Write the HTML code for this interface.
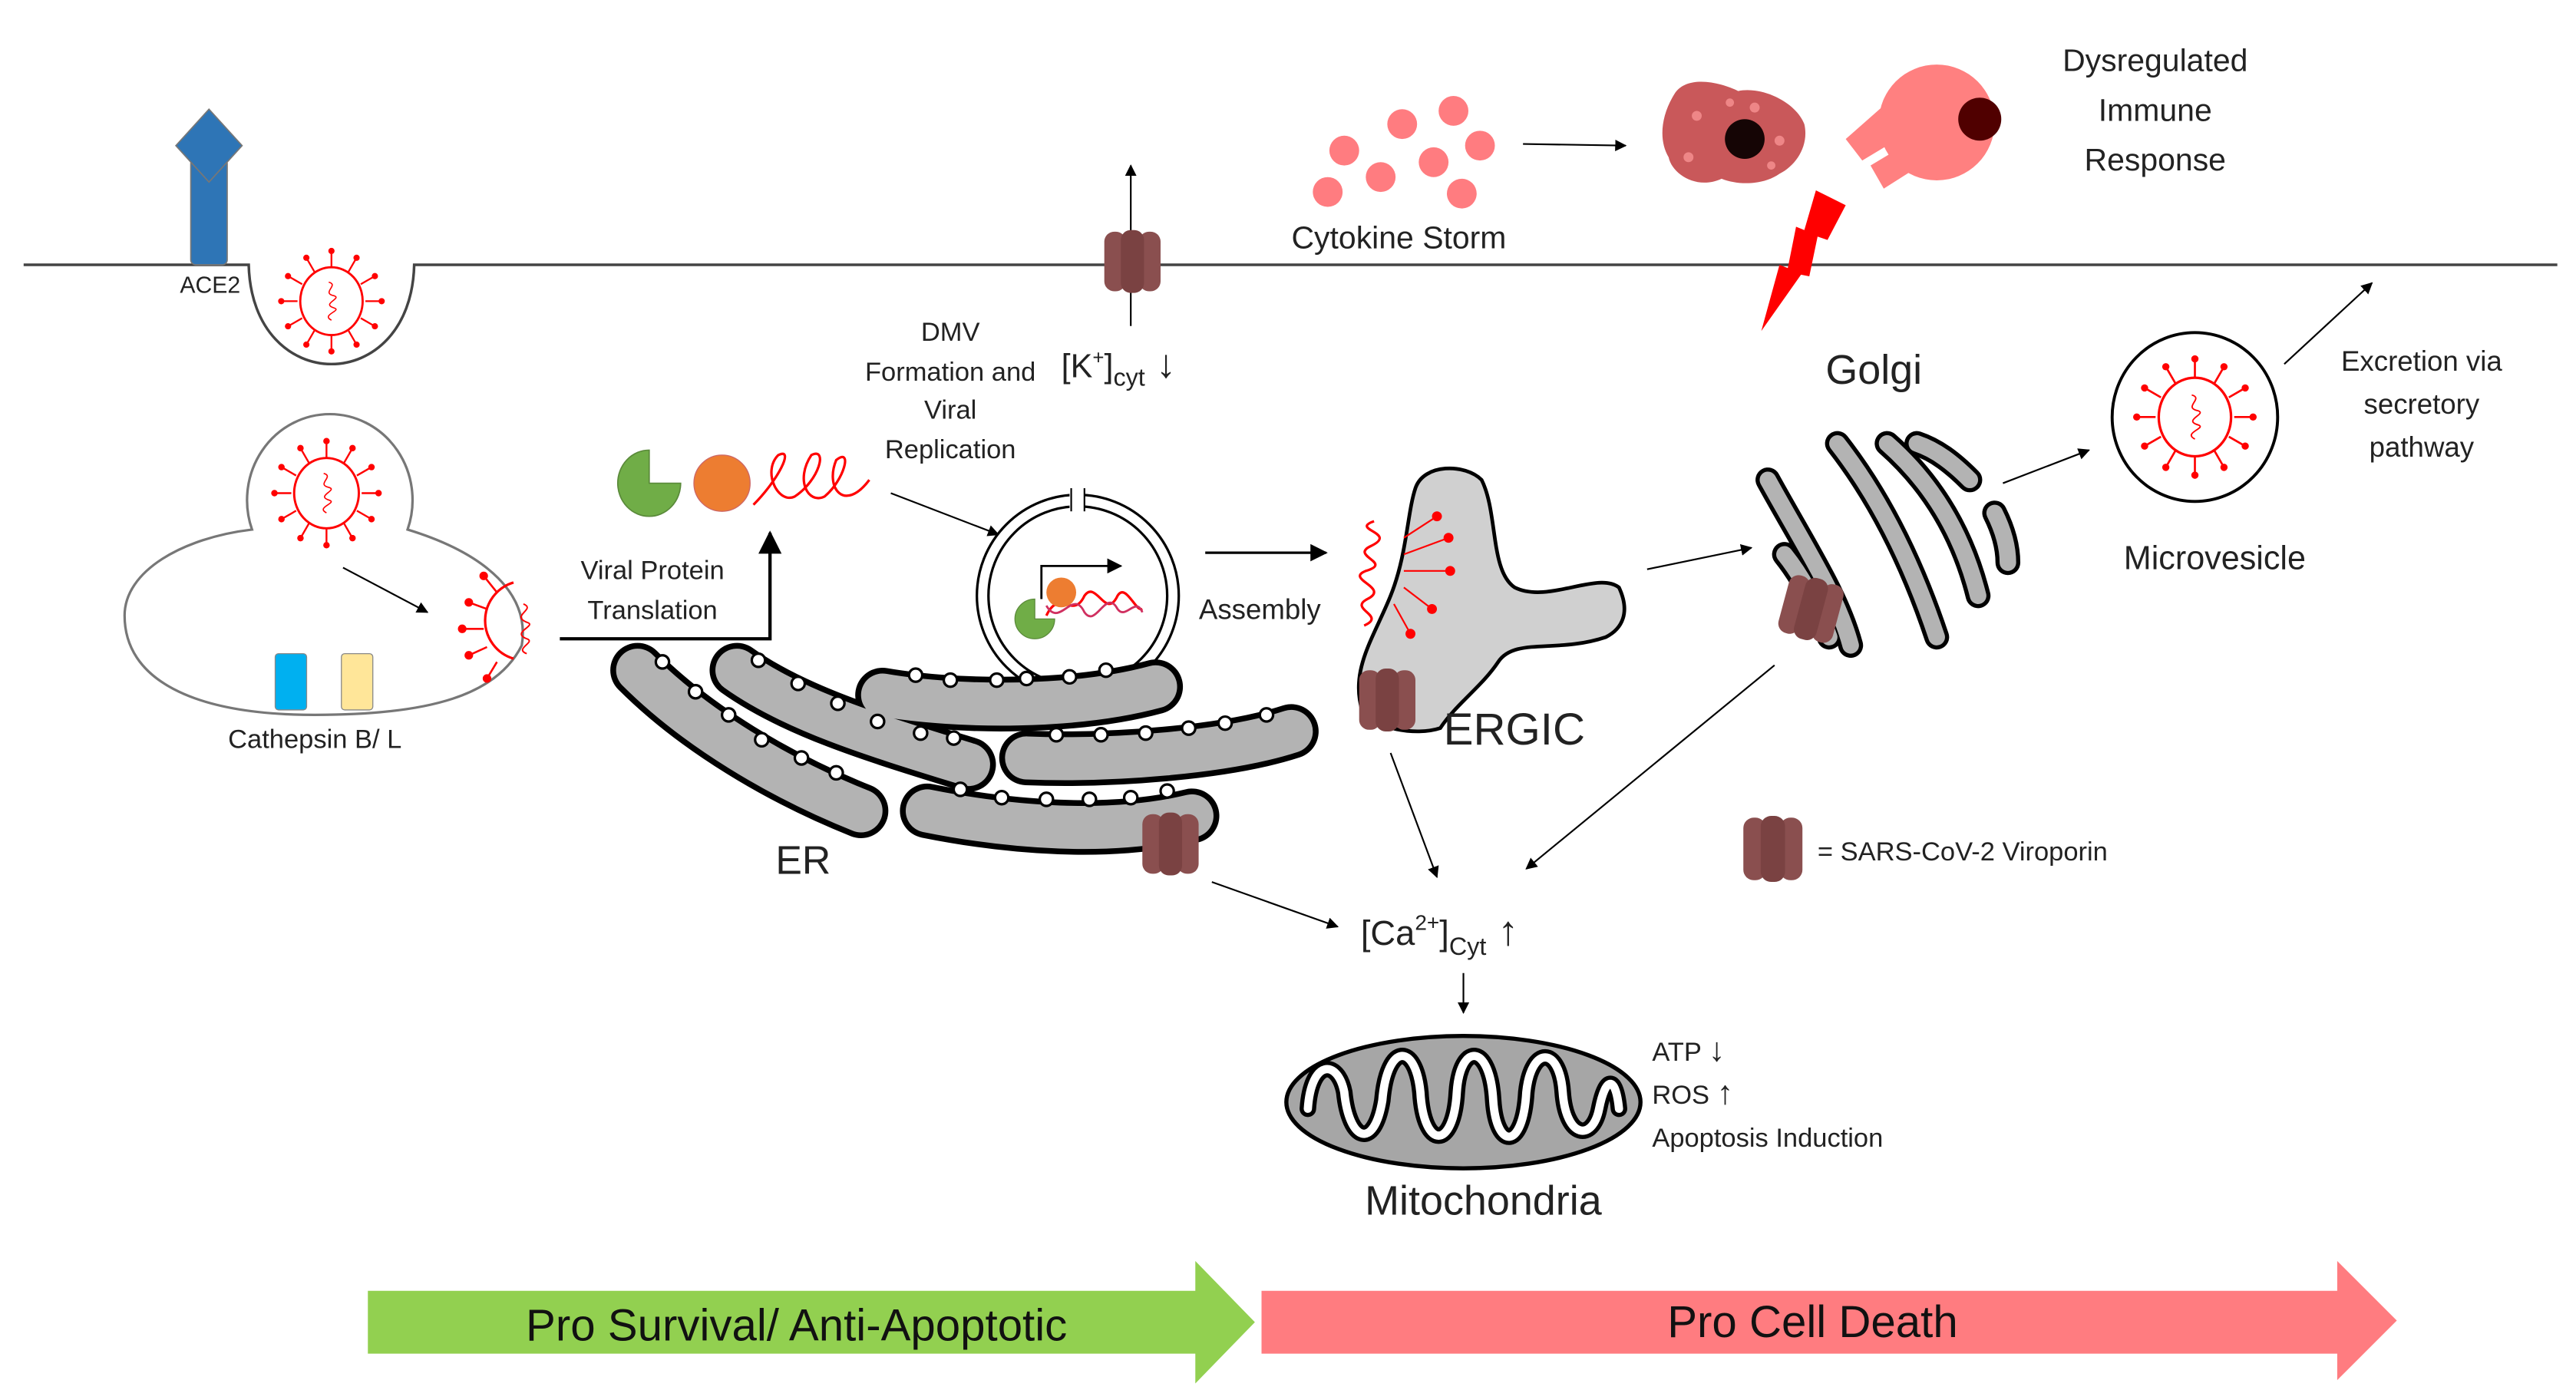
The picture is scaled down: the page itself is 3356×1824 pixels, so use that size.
<!DOCTYPE html>
<html><head><meta charset="utf-8"><style>
html,body{margin:0;padding:0;background:#fff;}
svg{display:block;}
text{font-family:"Liberation Sans",sans-serif;fill:#222;}
</style></head><body>
<svg width="3356" height="1824" viewBox="0 0 1556 846" xmlns="http://www.w3.org/2000/svg">
<defs>
<marker id="ah" viewBox="0 0 10 10" refX="9" refY="5" markerWidth="7" markerHeight="7" orient="auto-start-reverse"><path d="M0,0 L10,5 L0,10z" fill="#000"/></marker>
<g id="virus">
  <g stroke="#f00" stroke-width="1.3">
    <line x1="0" y1="-25" x2="0" y2="-37"/><line x1="0" y1="25" x2="0" y2="37"/>
    <line x1="-25" y1="0" x2="-37" y2="0"/><line x1="25" y1="0" x2="37" y2="0"/>
    <line x1="12.5" y1="-21.6" x2="18.5" y2="-32"/><line x1="-12.5" y1="-21.6" x2="-18.5" y2="-32"/>
    <line x1="12.5" y1="21.6" x2="18.5" y2="32"/><line x1="-12.5" y1="21.6" x2="-18.5" y2="32"/>
    <line x1="21.6" y1="-12.5" x2="32" y2="-18.5"/><line x1="-21.6" y1="-12.5" x2="-32" y2="-18.5"/>
    <line x1="21.6" y1="12.5" x2="32" y2="18.5"/><line x1="-21.6" y1="12.5" x2="-32" y2="18.5"/>
  </g>
  <g fill="#f00">
    <circle cx="0" cy="-37" r="2.3"/><circle cx="0" cy="37" r="2.3"/><circle cx="-37" cy="0" r="2.3"/><circle cx="37" cy="0" r="2.3"/>
    <circle cx="18.5" cy="-32" r="2.3"/><circle cx="-18.5" cy="-32" r="2.3"/><circle cx="18.5" cy="32" r="2.3"/><circle cx="-18.5" cy="32" r="2.3"/>
    <circle cx="32" cy="-18.5" r="2.3"/><circle cx="-32" cy="-18.5" r="2.3"/><circle cx="32" cy="18.5" r="2.3"/><circle cx="-32" cy="18.5" r="2.3"/>
  </g>
  <ellipse cx="0" cy="0" rx="23" ry="25" fill="none" stroke="#f00" stroke-width="1.6"/>
  <path d="M-2,-14 C6,-12 -8,-6 2,-4 C8,-2 -8,2 2,5 C8,7 -8,10 0,14" fill="none" stroke="#f00" stroke-width="0.9"/>
</g>
<g id="vp">
  <rect x="-17" y="-18" width="13" height="36" rx="6" fill="#8a4f4f"/>
  <rect x="4" y="-18" width="13" height="36" rx="6" fill="#8a4f4f"/>
  <rect x="-7" y="-19" width="14" height="38" rx="6" fill="#7a4242"/>
</g>
</defs>

<path d="M14,160 L150,160 C152,240 248,240 250,160 L1545,160" fill="none" stroke="#444" stroke-width="1.6"/>
<rect x="115" y="96" width="22" height="64" rx="3" fill="#2e75b6" stroke="#777" stroke-width="0.8"/>
<polygon points="126,66 146,88 126,110 106,88" fill="#2e75b6" stroke="#777" stroke-width="0.8"/>
<text x="145" y="177" font-size="14" text-anchor="end">ACE2</text>
<use href="#virus" transform="translate(200,182) scale(0.82)"/>

<path d="M152,320 A50,52 0 1 1 246,320 C295,335 320,360 315,390 C300,420 260,432 190,432 C115,432 75,410 75,372 C75,345 110,325 152,320 Z" fill="#fff" stroke="#777" stroke-width="1.5"/>
<use href="#virus" transform="translate(197,298) scale(0.85)"/>
<line x1="207" y1="343" x2="258" y2="370" stroke="#000" stroke-width="1" marker-end="url(#ah)"/>
<path d="M310,352 A24,24 0 0 0 310,398" fill="none" stroke="#f00" stroke-width="1.5"/>
<g stroke="#f00" stroke-width="1.2" fill="#f00">
<line x1="300" y1="358" x2="292" y2="348"/><circle cx="292" cy="348" r="2"/>
<line x1="294" y1="368" x2="283" y2="364"/><circle cx="283" cy="364" r="2"/>
<line x1="292" y1="380" x2="279" y2="380"/><circle cx="279" cy="380" r="2"/>
<line x1="294" y1="391" x2="283" y2="396"/><circle cx="283" cy="396" r="2"/>
<line x1="300" y1="400" x2="294" y2="410"/><circle cx="294" cy="410" r="2"/>
</g>
<path d="M316,365 C324,368 308,372 318,376 C325,378 308,382 318,386 C324,388 310,392 318,395" fill="none" stroke="#f00" stroke-width="0.9"/>
<rect x="166" y="395" width="19" height="34" rx="2" fill="#00b0f0" stroke="#888" stroke-width="0.6"/>
<rect x="206" y="395" width="19" height="34" rx="2" fill="#ffe699" stroke="#888" stroke-width="0.6"/>
<text x="190" y="452" font-size="16" text-anchor="middle">Cathepsin B/ L</text>

<path d="M338,386 L465,386 L465,322" fill="none" stroke="#000" stroke-width="2" marker-end="url(#ah)"/>
<text x="394" y="350" font-size="16" text-anchor="middle">Viral Protein</text>
<text x="394" y="374" font-size="16" text-anchor="middle">Translation</text>

<path d="M392,272 A19,20 0 1 0 411,292 L392,292 Z" fill="#70ad47" stroke="#5a8a3a" stroke-width="0.8"/>
<circle cx="436" cy="292" r="17" fill="#ed7d31" stroke="#c66" stroke-width="0.6"/>
<path d="M455,305 C470,290 480,270 470,275 C460,285 470,305 480,300 C495,290 500,270 490,275 C480,290 488,305 498,300 C510,290 515,270 505,278 C498,295 510,310 525,290" fill="none" stroke="#f00" stroke-width="1.5"/>

<text x="574" y="206" font-size="16" text-anchor="middle">DMV</text>
<text x="574" y="230" font-size="16" text-anchor="middle">Formation and</text>
<text x="574" y="253" font-size="16" text-anchor="middle">Viral</text>
<text x="574" y="277" font-size="16" text-anchor="middle">Replication</text>
<text x="641" y="228" font-size="20">[K<tspan font-size="12" dy="-8">+</tspan><tspan dy="8">]</tspan><tspan font-size="15" dy="5">cyt</tspan><tspan dy="-5" font-size="24"> ↓</tspan></text>

<line x1="683" y1="197" x2="683" y2="100" stroke="#000" stroke-width="1" marker-end="url(#ah)"/>
<use href="#vp" transform="translate(684,158)"/>

<line x1="538" y1="298" x2="603" y2="323" stroke="#000" stroke-width="1" marker-end="url(#ah)"/>

<circle cx="651" cy="360" r="61" fill="#fff" stroke="#000" stroke-width="1.5"/>
<circle cx="651" cy="360" r="54" fill="#fff" stroke="#000" stroke-width="1.5"/>
<rect x="646" y="296" width="9" height="12" fill="#fff"/>
<line x1="647" y1="295" x2="647" y2="309" stroke="#000" stroke-width="1"/>
<line x1="655" y1="295" x2="655" y2="309" stroke="#000" stroke-width="1"/>
<path d="M629,362 L629,342 L677,342" fill="none" stroke="#000" stroke-width="1.3" marker-end="url(#ah)"/>
<path d="M632,372 C640,355 648,375 655,360 C662,350 668,375 675,360 C680,352 686,370 690,368" fill="none" stroke="#f00" stroke-width="1.5"/>
<path d="M632,366 C640,380 648,355 655,370 C662,380 668,355 675,368 C680,375 686,360 690,370" fill="none" stroke="#d03060" stroke-width="1.3"/>
<path d="M625,362 A12,12 0 1 0 637,374 L625,374 Z" fill="#70ad47" stroke="#5a8a3a" stroke-width="0.6"/>
<circle cx="641" cy="358" r="9" fill="#ed7d31"/>

<line x1="728" y1="334" x2="801" y2="334" stroke="#000" stroke-width="1.5" marker-end="url(#ah)"/>
<text x="761" y="374" font-size="17" text-anchor="middle">Assembly</text>

<g fill="none" stroke-linecap="round">
<g stroke="#000" stroke-width="33">
<path d="M385,405 C420,440 470,470 520,490"/>
<path d="M445,405 C480,430 530,445 585,462"/>
<path d="M533,420 C580,428 650,428 698,415"/>
<path d="M620,458 C670,460 740,455 780,442"/>
<path d="M560,490 C610,500 670,505 720,493"/>
</g>
<g stroke="#b3b3b3" stroke-width="26">
<path d="M385,405 C420,440 470,470 520,490"/>
<path d="M445,405 C480,430 530,445 585,462"/>
<path d="M533,420 C580,428 650,428 698,415"/>
<path d="M620,458 C670,460 740,455 780,442"/>
<path d="M560,490 C610,500 670,505 720,493"/>
</g>
</g>
<g fill="#fff" stroke="#000" stroke-width="1.5">
<circle cx="400" cy="400" r="4"/><circle cx="420" cy="418" r="4"/><circle cx="440" cy="432" r="4"/><circle cx="460" cy="447" r="4"/><circle cx="484" cy="458" r="4"/><circle cx="505" cy="467" r="4"/>
<circle cx="458" cy="399" r="4"/><circle cx="482" cy="413" r="4"/><circle cx="506" cy="425" r="4"/><circle cx="530" cy="436" r="4"/><circle cx="556" cy="443" r="4"/><circle cx="576" cy="446" r="4"/>
<circle cx="553" cy="408" r="4"/><circle cx="574" cy="411" r="4"/><circle cx="602" cy="411" r="4"/><circle cx="620" cy="410" r="4"/><circle cx="646" cy="409" r="4"/><circle cx="668" cy="405" r="4"/>
<circle cx="638" cy="444" r="4"/><circle cx="665" cy="444" r="4"/><circle cx="692" cy="443" r="4"/><circle cx="718" cy="440" r="4"/><circle cx="740" cy="437" r="4"/><circle cx="765" cy="432" r="4"/>
<circle cx="580" cy="477" r="4"/><circle cx="605" cy="482" r="4"/><circle cx="632" cy="483" r="4"/><circle cx="658" cy="483" r="4"/><circle cx="683" cy="482" r="4"/><circle cx="705" cy="478" r="4"/>
</g>
<use href="#vp" transform="translate(707,510)"/>
<text x="485" y="528" font-size="24" text-anchor="middle">ER</text>

<path d="M855,295 C860,280 885,280 895,290 C905,310 900,345 915,355 C935,365 965,345 978,355 C985,370 980,380 970,385 C940,395 915,385 905,400 C895,415 880,425 870,440 C855,445 830,440 823,430 C815,405 830,385 840,360 C850,335 850,310 855,295 Z" fill="#d0d0d0" stroke="#000" stroke-width="2.2"/>
<path d="M830,315 C815,320 845,322 828,330 C815,336 842,340 825,345 C812,350 840,355 826,362 C814,368 838,372 824,378" fill="none" stroke="#f00" stroke-width="1.5"/>
<g stroke="#f00" stroke-width="1" fill="#f00">
<line x1="848" y1="325" x2="868" y2="312"/><circle cx="868" cy="312" r="2.5"/>
<line x1="848" y1="335" x2="875" y2="325"/><circle cx="875" cy="325" r="2.5"/>
<line x1="848" y1="345" x2="876" y2="345"/><circle cx="876" cy="345" r="2.5"/>
<line x1="848" y1="355" x2="865" y2="368"/><circle cx="865" cy="368" r="2.5"/>
<line x1="842" y1="365" x2="852" y2="383"/><circle cx="852" cy="383" r="2.5"/>
</g>
<use href="#vp" transform="translate(838,423)"/>
<text x="872" y="450" font-size="27">ERGIC</text>

<text x="1132" y="232" font-size="25" text-anchor="middle">Golgi</text>
<g fill="none" stroke-linecap="round">
<g stroke="#000" stroke-width="15">
<path d="M1068,290 C1090,330 1110,360 1118,390"/>
<path d="M1078,335 C1090,350 1100,370 1105,385"/>
<path d="M1110,268 C1135,300 1155,340 1170,385"/>
<path d="M1140,268 C1165,290 1185,320 1195,360"/>
<path d="M1158,268 C1170,272 1180,280 1190,290"/>
<path d="M1205,310 C1210,320 1213,330 1213,340"/>
</g>
<g stroke="#b3b3b3" stroke-width="10">
<path d="M1068,290 C1090,330 1110,360 1118,390"/>
<path d="M1078,335 C1090,350 1100,370 1105,385"/>
<path d="M1110,268 C1135,300 1155,340 1170,385"/>
<path d="M1140,268 C1165,290 1185,320 1195,360"/>
<path d="M1158,268 C1170,272 1180,280 1190,290"/>
<path d="M1205,310 C1210,320 1213,330 1213,340"/>
</g>
</g>
<use href="#vp" transform="translate(1094,368) rotate(15)"/>
<line x1="995" y1="344" x2="1058" y2="331" stroke="#000" stroke-width="1" marker-end="url(#ah)"/>
<line x1="1210" y1="292" x2="1262" y2="272" stroke="#000" stroke-width="1" marker-end="url(#ah)"/>

<ellipse cx="1326" cy="252" rx="50" ry="51" fill="#fff" stroke="#000" stroke-width="1.8"/>
<use href="#virus" transform="translate(1326,252) scale(0.95)"/>
<text x="1338" y="344" font-size="20" text-anchor="middle">Microvesicle</text>
<line x1="1380" y1="220" x2="1433" y2="171" stroke="#000" stroke-width="1" marker-end="url(#ah)"/>
<text x="1463" y="224" font-size="17" text-anchor="middle">Excretion via</text>
<text x="1463" y="250" font-size="17" text-anchor="middle">secretory</text>
<text x="1463" y="276" font-size="17" text-anchor="middle">pathway</text>

<g fill="#ff7c80">
<circle cx="847" cy="75" r="9"/><circle cx="878" cy="67" r="9"/><circle cx="812" cy="91" r="9"/><circle cx="894" cy="88" r="9"/>
<circle cx="866" cy="98" r="9"/><circle cx="834" cy="107" r="9"/><circle cx="802" cy="116" r="9"/><circle cx="883" cy="117" r="9"/>
</g>
<text x="845" y="150" font-size="19" text-anchor="middle">Cytokine Storm</text>
<line x1="920" y1="87" x2="982" y2="88" stroke="#000" stroke-width="1" marker-end="url(#ah)"/>
<path d="M1012,56 C1020,45 1040,50 1050,55 C1065,52 1085,62 1090,75 C1093,88 1085,100 1075,105 C1065,112 1050,112 1040,108 C1025,115 1010,105 1008,95 C1002,85 1003,70 1012,56 Z" fill="#c9585a"/>
<g fill="#ff9a9a" opacity="0.7"><circle cx="1025" cy="70" r="3"/><circle cx="1060" cy="65" r="3"/><circle cx="1075" cy="85" r="3"/><circle cx="1020" cy="95" r="3"/><circle cx="1045" cy="62" r="2.5"/><circle cx="1070" cy="100" r="2.5"/></g>
<circle cx="1054" cy="84" r="12" fill="#150505"/>
<circle cx="1170" cy="74" r="35" fill="#ff8080"/>
<polygon points="1115,84 1140,62 1150,82 1125,97" fill="#ff8080"/>
<polygon points="1130,100 1150,88 1160,100 1138,114" fill="#ff8080"/>
<circle cx="1196" cy="72" r="13" fill="#500000"/>
<polygon points="1097,115 1115,124 1104,145 1098,143 1093,167 1088,166 1064,200 1075,160 1080,162 1085,137 1090,139" fill="#f00"/>
<text x="1302" y="43" font-size="19" text-anchor="middle">Dysregulated</text>
<text x="1302" y="73" font-size="19" text-anchor="middle">Immune</text>
<text x="1302" y="103" font-size="19" text-anchor="middle">Response</text>

<use href="#vp" transform="translate(1071,513) scale(1.05)"/>
<text x="1098" y="520" font-size="16">= SARS-CoV-2 Viroporin</text>

<line x1="840" y1="455" x2="868" y2="530" stroke="#000" stroke-width="1" marker-end="url(#ah)"/>
<line x1="1072" y1="402" x2="922" y2="525" stroke="#000" stroke-width="1" marker-end="url(#ah)"/>
<line x1="732" y1="533" x2="808" y2="560" stroke="#000" stroke-width="1" marker-end="url(#ah)"/>
<text x="822" y="571" font-size="21">[Ca<tspan font-size="13" dy="-9">2+</tspan><tspan dy="9">]</tspan><tspan font-size="15" dy="6">Cyt</tspan><tspan dy="-6" font-size="25"> ↑</tspan></text>
<line x1="884" y1="588" x2="884" y2="612" stroke="#000" stroke-width="1" marker-end="url(#ah)"/>

<ellipse cx="884" cy="666" rx="107" ry="40" fill="#a6a6a6" stroke="#000" stroke-width="2.5"/>
<path d="M790,670 C792,640 808,640 812,660 C815,690 830,695 835,665 C838,630 855,630 858,660 C860,695 878,695 880,660 C882,630 900,630 902,665 C904,695 920,695 922,660 C925,632 942,632 944,660 C946,688 962,690 966,670 C970,650 976,650 978,670" fill="none" stroke="#000" stroke-width="10" stroke-linecap="round"/>
<path d="M790,670 C792,640 808,640 812,660 C815,690 830,695 835,665 C838,630 855,630 858,660 C860,695 878,695 880,660 C882,630 900,630 902,665 C904,695 920,695 922,660 C925,632 942,632 944,660 C946,688 962,690 966,670 C970,650 976,650 978,670" fill="none" stroke="#fff" stroke-width="5" stroke-linecap="round"/>
<text x="896" y="734" font-size="25" text-anchor="middle">Mitochondria</text>
<text x="998" y="641" font-size="16">ATP <tspan font-size="20">↓</tspan></text>
<text x="998" y="667" font-size="16">ROS <tspan font-size="20">↑</tspan></text>
<text x="998" y="693" font-size="16">Apoptosis Induction</text>

<polygon points="222,780 722,780 722,762 758,799 722,836 722,818 222,818" fill="#92d050"/>
<polygon points="762,780 1412,780 1412,762 1448,798 1412,834 1412,818 762,818" fill="#ff7c80"/>
<text x="481" y="810" font-size="27" text-anchor="middle" style="fill:#111">Pro Survival/ Anti-Apoptotic</text>
<text x="1095" y="808" font-size="27" text-anchor="middle" style="fill:#111">Pro Cell Death</text>
</svg>
</body></html>
